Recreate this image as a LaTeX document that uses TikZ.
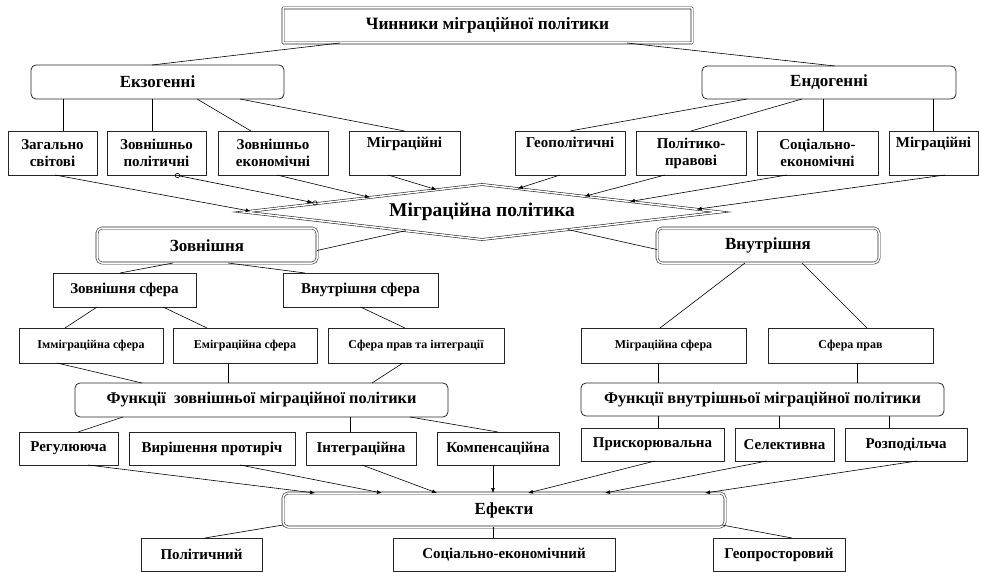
\documentclass[tikz,border=0pt]{standalone}
\usepackage{fontspec}
\setmainfont{Liberation Serif}
\usetikzlibrary{arrows.meta,shapes.geometric,calc}

\tikzset{
  box/.style={draw=black!85, line width=0.8pt, inner sep=0pt, outer sep=0pt, align=center, font=\bfseries\fontsize{15}{17}\selectfont},
  rbox/.style={box, rounded corners=5pt},
  dbox/.style={box, double, double distance=1.5pt, line width=0.6pt},
  sbox/.style={box, font=\bfseries\fontsize{12}{14}\selectfont},
  hfont/.style={font=\bfseries\fontsize{17}{19}\selectfont},
  con/.style={line width=0.6pt},
  arr/.style={con, -{Latex[length=5pt,width=4pt]}},
}

\begin{document}
\begin{tikzpicture}[x=1pt, y=-1pt]
			%%%%% START %%%%%
			\useasboundingbox (0,0) rectangle (982,572);
			
			\node[dbox, rounded corners=0.5pt, minimum width=409pt, minimum height=35pt, font=\bfseries\fontsize{17.3}{19}\selectfont] (chyn) at (487.5,25.5) {Чинники міграційної політики};
			
			\node[rbox, hfont, minimum width=253pt, minimum height=34pt] (ekz) at (157.5,82) {Екзогенні};
			\node[rbox, hfont, minimum width=254pt, minimum height=33pt] (endo) at (829,82.5) {Ендогенні};
			
			\node[box, minimum width=89pt, minimum height=44pt] (zag) at (52.5,153) {Загально\\світові};
			\node[box, minimum width=99pt, minimum height=44pt] (zpol) at (156.5,153) {Зовнішньо\\політичні};
			\node[box, minimum width=110pt, minimum height=44pt] (zek) at (273,153) {Зовнішньо\\економічні};
			\node[box, minimum width=111pt, minimum height=44pt] (migl) at (404.5,153) {Міграційні\\\strut};
			\node[box, minimum width=110pt, minimum height=44pt] (geo) at (570,153) {Геополітичні\\\strut};
			\node[box, minimum width=110pt, minimum height=44pt] (polpr) at (691,153) {Політико-\\правові};
			\node[box, minimum width=121pt, minimum height=44pt] (soc) at (817.5,153) {Соціально-\\економічні};
			\node[box, minimum width=89pt, minimum height=44pt] (migr) at (933.5,153) {Міграційні\\\strut};
			
			\node[diamond, draw=black!85, double, double distance=1.5pt, line width=0.6pt, aspect=8.7, minimum width=477pt, minimum height=55pt, inner sep=0pt, outer sep=0pt, font=\bfseries\fontsize{19.5}{21}\selectfont] (mp) at (482,212) {Міграційна політика};
			
			\node[dbox, hfont, rounded corners=5pt, minimum width=220pt, minimum height=35pt] (zovn) at (207,245.5) {Зовнішня};
			\node[dbox, hfont, rounded corners=5pt, minimum width=222pt, minimum height=35pt] (vnut) at (768,245.5) {Внутрішня};
			
			\node[box, minimum width=143pt, minimum height=34pt] (zsf) at (124.5,290) {Зовнішня сфера};
			\node[box, minimum width=155pt, minimum height=34pt] (vsf) at (360.5,290) {Внутрішня сфера};
			
			\node[sbox, minimum width=144pt, minimum height=35pt] (imm) at (91,345.5) {Імміграційна сфера};
			\node[sbox, minimum width=144pt, minimum height=35pt] (emi) at (245,345.5) {Еміграційна сфера};
			\node[sbox, minimum width=176pt, minimum height=35pt] (spi) at (416,345.5) {Сфера прав та інтеграції};
			\node[sbox, minimum width=165pt, minimum height=35pt] (msf) at (663.5,345.5) {Міграційна сфера};
			\node[sbox, minimum width=165pt, minimum height=35pt] (sp) at (850.5,345.5) {Сфера прав};
			
			\node[rbox, minimum width=373pt, minimum height=34pt, font=\bfseries\fontsize{16.3}{18}\selectfont] (fz) at (261.5,400) {Функції~~зовнішньої міграційної політики};
			\node[rbox, minimum width=363pt, minimum height=33pt, font=\bfseries\fontsize{16.3}{18}\selectfont] (fv) at (762.5,399.5) {Функції внутрішньої міграційної політики};
			
			\node[box, minimum width=99pt, minimum height=33pt] (reg) at (68.5,448.5) {Регулююча};
			\node[box, minimum width=166pt, minimum height=33pt] (vyr) at (212,448.5) {Вирішення протиріч};
			\node[box, minimum width=110pt, minimum height=33pt] (integ) at (361,448.5) {Інтеграційна};
			\node[box, minimum width=122pt, minimum height=33pt] (komp) at (498,448.5) {Компенсаційна};
			\node[box, minimum width=143pt, minimum height=33pt] (pry) at (652.5,444.5) {Прискорювальна};
			\node[box, minimum width=99pt, minimum height=33pt] (sel) at (784.5,444.5) {Селективна};
			\node[box, minimum width=122pt, minimum height=33pt] (rozp) at (906,444.5) {Розподільча};
			
			\node[dbox, hfont, rounded corners=5pt, minimum width=442pt, minimum height=34pt] (eff) at (504,510) {Ефекти};
			
			\node[box, minimum width=121pt, minimum height=33pt] (polit) at (201.5,554.5) {Політичний};
			\node[box, minimum width=222pt, minimum height=33pt] (socek) at (504,554.5) {Соціально-економічний};
			\node[box, minimum width=132pt, minimum height=33pt] (geopr) at (779,554.5) {Геопросторовий};
			
			% чинники
			\draw[con] ([xshift=-147.5pt]chyn.south) -- ([xshift=-5.5pt]ekz.north);
			\draw[con] ([xshift=139.5pt]chyn.south) -- ([xshift=6pt]endo.north);
			
			\draw[con] ([xshift=10.5pt]zag.north) -- ([xshift=10.5pt]zag.north |- ekz.south);
			\draw[con] ([xshift=-4.5pt]zpol.north) -- ([xshift=-4.5pt]zpol.north |- ekz.south);
			\draw[con] ([xshift=39.5pt]ekz.south) -- ([xshift=-22pt]zek.north);
			\draw[con] ([xshift=82.5pt]ekz.south) -- (migl.north);
			\draw[con] ([xshift=-82pt]endo.south) -- (geo.north);
			\draw[con] ([xshift=-27pt]endo.south) -- (polpr.north);
			\draw[con] ([xshift=5.5pt]soc.north) -- ([xshift=5.5pt]soc.north |- endo.south);
			\draw[con] (migr.north) -- (migr.north |- endo.south);
			
			\draw[arr] ([xshift=2.5pt]zag.south) -- ($(mp.west)!0.03!(mp.north)$);
			\draw[con, {Circle[open,length=5pt]}-{Latex[length=5pt,width=4pt] Circle[open,length=5pt]}] ([xshift=18.5pt]zpol.south) -- ($(mp.west)!0.31!(mp.north)$);
			\draw[arr] ([xshift=4pt]zek.south) -- ($(mp.west)!0.53!(mp.north)$);
			\draw[arr] ([xshift=-16.5pt]migl.south) -- ($(mp.west)!0.81!(mp.north)$);
			\draw[arr] ([xshift=-10pt]geo.south) -- ($(mp.north)!0.15!(mp.east)$);
			\draw[arr] ([xshift=-26pt]polpr.south) -- ($(mp.north)!0.43!(mp.east)$);
			\draw[arr] ([xshift=-30.5pt]soc.south) -- ($(mp.north)!0.62!(mp.east)$);
			\draw[arr] ([xshift=11.5pt]migr.south) -- ($(mp.north)!0.9!(mp.east)$);
			
			% зовнішня / внутрішня
			\draw[con] ([yshift=-5pt]zovn.east) -- ($(mp.west)!0.68!(mp.south)$);
			\draw[con] ([yshift=-4pt]vnut.west) -- ($(mp.east)!0.64!(mp.south)$);
			
			\draw[con] ([xshift=-34pt]zovn.south) -- ([xshift=-4.5pt]zsf.north);
			\draw[con] ([xshift=21pt]zovn.south) -- ([xshift=-55.5pt]vsf.north);
			\draw[con] ([xshift=-27.5pt]zsf.south) -- ([xshift=-26pt]imm.north);
			\draw[con] ([xshift=38.5pt]zsf.south) -- ([xshift=-38pt]emi.north);
			\draw[con] (vsf.south) -- ([xshift=-11pt]spi.north);
			\draw[con] ([xshift=-34pt]imm.south) -- ([xshift=-119.5pt]fz.north);
			\draw[con] ([xshift=-17pt]emi.south) -- ([xshift=-17pt]emi.south |- fz.north);
			\draw[con] ([xshift=-13pt]spi.south) -- ([xshift=110.5pt]fz.north);
			
			\draw[con] ([xshift=-23pt]vnut.south) -- ([xshift=-3.5pt]msf.north);
			\draw[con] ([xshift=34pt]vnut.south) -- ([xshift=16.5pt]sp.north);
			\draw[con] ([xshift=-5.5pt]msf.south) -- ([xshift=-5.5pt]msf.south |- fv.north);
			\draw[con] ([xshift=6.5pt]sp.south) -- ([xshift=6.5pt]sp.south |- fv.north);
			
			% функції
			\draw[con] ([xshift=-138.5pt]fz.south) -- ([xshift=9.5pt]reg.north);
			\draw[con] ([xshift=-11pt]integ.north) -- ([xshift=-11pt]integ.north |- fz.south);
			\draw[con] ([xshift=148.5pt]fz.south) -- (komp.north);
			\draw[con] ([xshift=5.5pt]pry.north) -- ([xshift=5.5pt]pry.north |- fv.south);
			\draw[con] ([xshift=-5.5pt]sel.north) -- ([xshift=-5.5pt]sel.north |- fv.south);
			\draw[con] ([xshift=-17pt]rozp.north) -- ([xshift=-17pt]rozp.north |- fv.south);
			
			% ефекти
			\draw[arr] ([xshift=19.5pt]reg.south) -- ([xshift=-189pt]eff.north);
			\draw[arr] ([xshift=28pt]vyr.south) -- ([xshift=-122pt]eff.north);
			\draw[arr] ([xshift=1pt]integ.south) -- ([xshift=-67pt]eff.north);
			\draw[arr] ([xshift=-5pt]komp.south) -- ([xshift=-5pt]komp.south |- eff.north);
			\draw[arr] ([xshift=2.5pt]pry.south) -- ([xshift=24pt]eff.north);
			\draw[arr] ([xshift=-17.5pt]sel.south) -- ([xshift=101pt]eff.north);
			\draw[arr] ([xshift=11pt]rozp.south) -- ([xshift=201pt]eff.north);
			
			\draw[con] ([xshift=-221pt, yshift=2pt]eff.south) -- ([xshift=3.5pt]polit.north);
			\draw[con] ([xshift=-11pt]socek.north) -- ([xshift=-11pt]socek.north |- eff.south);
			\draw[con] ([xshift=218pt, yshift=2pt]eff.south) -- ([xshift=13pt]geopr.north);
			
			%%%%% END %%%%%
		\end{tikzpicture}
\end{document}
